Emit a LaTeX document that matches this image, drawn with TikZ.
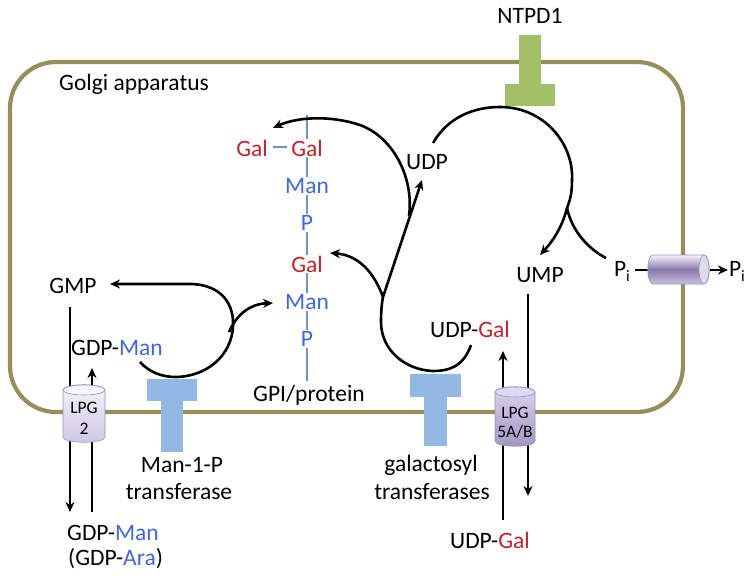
\documentclass[tikz,border=0pt]{standalone}
\usepackage{fontspec}
\setmainfont{Carlito}
\usetikzlibrary{arrows.meta}
\definecolor{golgi}{RGB}{152,142,92}
\definecolor{galred}{RGB}{200,32,40}
\definecolor{manblue}{RGB}{62,104,225}
\definecolor{chain}{RGB}{115,145,195}
\definecolor{tblue}{RGB}{148,184,228}
\definecolor{tgreen}{RGB}{162,192,104}
\definecolor{cylAtop}{RGB}{246,244,252}
\definecolor{cylAbot}{RGB}{205,198,228}
\definecolor{cylBtop}{RGB}{222,216,240}
\definecolor{cylBbot}{RGB}{160,148,192}
\definecolor{cylCmid}{RGB}{138,118,172}
\definecolor{cyledge}{RGB}{140,150,200}
\newcommand{\Gal}{\textcolor{galred}{Gal}}
\newcommand{\Man}{\textcolor{manblue}{Man}}
\newcommand{\Pisub}{P\raisebox{-0.45ex}{\fontsize{16}{16}\selectfont i}}
\begin{document}
\begin{tikzpicture}[x=1pt,y=-1pt,
  font=\fontsize{23.5}{28}\selectfont,
  lbl/.style={inner sep=1pt},
  chainlbl/.style={fill=white,inner sep=1.2pt},
  cyllbl/.style={inner sep=0pt,font=\fontsize{17.5}{18}\selectfont},
  flow/.style={line width=2.6pt,black},
  tip/.style={-{Stealth[length=10pt,width=9pt]}},
  membrane/.style={line width=4.2pt,golgi,rounded corners=46pt},
  cyl/.style={draw=cyledge,line width=0.6pt}
]
\useasboundingbox (0,0) rectangle (751,578);

% ---- membrane ----
\draw[membrane] (10,62) rectangle (683,412);

% ---- transport arrows (behind cylinders) ----
\coordinate (l2a) at (70,307);
\coordinate (l2b) at (70,512);
\coordinate (l2c) at (92,512);
\coordinate (l2d) at (92,368);
\coordinate (l5a) at (503,520);
\coordinate (l5b) at (503,351);
\coordinate (l5c) at (528,294);
\coordinate (l5d) at (528,496);
\draw[flow,tip] (l2a) -- (l2b);
\draw[flow,tip] (l2c) -- (l2d);
\draw[flow,tip] (l5a) -- (l5b);
\draw[flow,tip] (l5c) -- (l5d);

% ---- NTPD1 ----
\fill[tgreen] (519,35) rectangle (541,85);
\fill[tgreen] (505,84) rectangle (555,106);
\node[lbl] (ntpd) at (530,16) {NTPD1};

% ---- T transferases ----
\fill[tblue] (147,379) rectangle (197,401);
\fill[tblue] (161,400) rectangle (183,452);
\fill[tblue] (410,374) rectangle (461,397);
\fill[tblue] (424,396) rectangle (447,446);

% ---- LPG2 cylinder ----
\path[cyl,top color=cylAtop,bottom color=cylAbot]
  (63,390) -- (63,437) .. controls (63,444) and (105,444) .. (105,437)
  -- (105,390) .. controls (105,383) and (63,383) .. (63,390) -- cycle;
\path[cyl,fill=cylAtop] (84,390) ellipse [x radius=21,y radius=5];
\node[cyllbl] (lpg2a) at (84,408) {LPG};
\node[cyllbl] (lpg2b) at (84,429) {2};

% ---- LPG5A/B cylinder ----
\path[cyl,top color=cylBtop,bottom color=cylBbot]
  (495,392) -- (495,441) .. controls (495,448) and (535,448) .. (535,441)
  -- (535,392) .. controls (535,385) and (495,385) .. (495,392) -- cycle;
\path[cyl,fill=cylBtop] (515,392) ellipse [x radius=20,y radius=5];
\node[cyllbl] (lpg5a) at (515,413) {LPG};
\node[cyllbl] (lpg5b) at (515,432) {5A/B};

% ---- Pi transporter ----
\node[lbl] (pil) at (622,271) {\Pisub};
\node[lbl] (pir) at (737,271) {\Pisub};
\coordinate (pt1) at (635,270);
\coordinate (pt2) at (648,270);
\coordinate (pt3) at (710,270);
\coordinate (pt4) at (728,270);
\draw[flow] (pt1) -- (pt2);
\draw[flow,tip] (pt3) -- (pt4);
\path[cyl,top color=cylAtop,bottom color=cylAtop!60!cylCmid,middle color=cylCmid]
  (653,255) -- (704,255) .. controls (711,255) and (711,284) .. (704,284)
  -- (653,284) .. controls (646,284) and (646,255) .. (653,255) -- cycle;
\path[cyl,fill=cylAtop!80!cylCmid] (704,269.5) ellipse [x radius=5,y radius=14.5];

% ---- GPI chain ----
\coordinate (chtop) at (307,115);
\coordinate (chbot) at (307,381);
\draw[chain,line width=2.8pt] (chtop) -- (chbot);
\node[chainlbl] (gal1) at (307,148) {\Gal};
\node[chainlbl] (man1) at (307,186) {\Man};
\node[chainlbl] (p1) at (307,223) {\textcolor{manblue}{P}};
\node[chainlbl] (gal2) at (307,264) {\Gal};
\node[chainlbl] (man2) at (307,302) {\Man};
\node[chainlbl] (p2) at (307,339) {\textcolor{manblue}{P}};
\node[lbl] (gal0) at (252,148) {\Gal};
\coordinate (gd1) at (273,147);
\coordinate (gd2) at (287,147);
\draw[chain,line width=2.8pt] (gd1) -- (gd2);
\node[lbl] (gpi) at (309,395) {GPI/protein};

% ---- text labels ----
\node[lbl,anchor=west] (golgi) at (58,84) {Golgi apparatus};
\node[lbl] (gmp) at (73,286) {GMP};
\node[lbl] (gdpman) at (117,348) {GDP-\Man};
\node[lbl,anchor=west] (gdpmanout) at (66,533) {GDP-\Man};
\node[lbl,anchor=west] (gdpara) at (67,559) {(GDP-\textcolor{manblue}{Ara})};
\node[lbl] (udpgal) at (470,329) {UDP-\Gal};
\node[lbl] (udpgalout) at (490,540) {UDP-\Gal};
\node[lbl] (udp) at (427,162) {UDP};
\node[lbl] (ump) at (540,275) {UMP};
\node[lbl] (mt1) at (182,465) {Man-1-P};
\node[lbl] (mt2) at (179,492) {transferase};
\node[lbl] (gt1) at (431,465) {galactosyl};
\node[lbl] (gt2) at (432,492) {transferases};

% ---- Man-1-P reaction ----
\coordinate (ma) at (140,362);
\coordinate (mb) at (176,377);
\coordinate (mc) at (233,320);
\coordinate (md) at (192,284);
\coordinate (me) at (110,284);
\coordinate (mf) at (229,332);
\coordinate (mg) at (273,303);
\draw[flow,tip] (ma) .. controls (150,373) and (163,377) .. (mb)
  .. controls (212,376) and (235,350) .. (mc)
  .. controls (231,296) and (214,285) .. (md) -- (me);
\draw[flow,tip] (mf) .. controls (237,314) and (250,304) .. (mg);

% ---- galactosyl reactions ----
\coordinate (ga) at (471,345);
\coordinate (gb) at (433,371);
\coordinate (gc) at (381,322);
\coordinate (gj) at (383,297);
\coordinate (gu) at (422,180);
\coordinate (gk) at (409,216);
\coordinate (gt) at (273,128);
\coordinate (gg) at (330,253);
\draw[flow,tip] (ga) .. controls (463,368) and (447,371) .. (gb)
  .. controls (405,370) and (381,350) .. (gc)
  .. controls (381,310) and (382,302) .. (gj) -- (gu);
\draw[flow,tip] (gk) .. controls (414,180) and (395,138) .. (360,125)
  .. controls (330,115) and (297,117) .. (gt);
\draw[flow,tip] (gj) .. controls (374,272) and (358,255) .. (gg);

% ---- NTPD1 reaction ----
\coordinate (na) at (433,143);
\coordinate (nb) at (500,107);
\coordinate (nc) at (572,180);
\coordinate (nd) at (567,208);
\coordinate (ne) at (540,255);
\coordinate (nf) at (606,258);
\draw[flow,tip] (na) .. controls (448,117) and (474,107) .. (nb)
  .. controls (545,107) and (574,145) .. (nc)
  .. controls (572,194) and (570,200) .. (nd)
  .. controls (562,228) and (552,242) .. (ne);
\draw[flow] (nd) .. controls (572,232) and (590,250) .. (nf);
\end{tikzpicture}
\end{document}
